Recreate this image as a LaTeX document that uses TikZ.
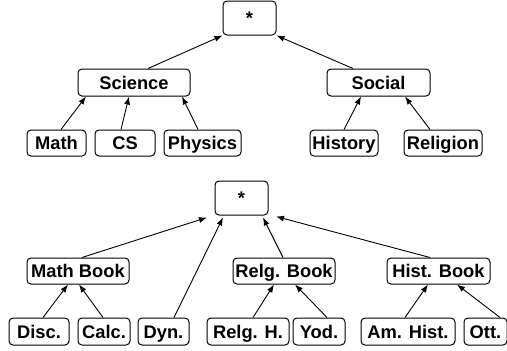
\documentclass[tikz,border=0pt]{standalone}
\usepackage{fontspec}
\setmainfont{Liberation Sans}
\usetikzlibrary{arrows.meta}
\tikzset{
	box/.style={draw, rounded corners=4pt, line width=1pt, fill=white, inner sep=0pt,
		minimum height=26pt, text height=13pt, text depth=0pt,
		font=\fontsize{18.3}{20}\selectfont\bfseries},
	rootbox/.style={box, minimum width=53pt, minimum height=34pt}
}
\begin{document}
\begin{tikzpicture}[>={Latex[length=8pt,width=6pt]}, x=1pt, y=-1pt, line width=0.9pt]
	\useasboundingbox (0,0) rectangle (507,351);
	% upper tree
	\node[rootbox] (top) at (249.5,18) {*};
	\node[box, minimum width=112pt, minimum height=27pt] (sci) at (134,82.5) {Science};
	\node[box, minimum width=103pt, minimum height=27pt] (soc) at (378.5,82.5) {Social};
	\node[box, minimum width=59pt] (math) at (56.5,143) {Math};
	\node[box, minimum width=60pt] (cs) at (125,143) {CS};
	\node[box, minimum width=77pt] (phys) at (202.5,143) {Physics};
	\node[box, minimum width=68pt] (hist) at (344,143) {History};
	\node[box, minimum width=78pt] (relig) at (443,143) {Religion};
	\draw[->] ([xshift=14pt]sci.north) -- (top.south west);
	\draw[->] ([xshift=-25.5pt]soc.north) -- (top.south east);
	\draw[->] ([xshift=4.5pt]math.north) -- ([xshift=-48pt]sci.south);
	\draw[->] ([xshift=-4pt]cs.north) -- ([xshift=-5pt]sci.south);
	\draw[->] ([xshift=-4.5pt]phys.north) -- ([xshift=48pt]sci.south);
	\draw[->] (hist.north) -- ([xshift=-17.5pt]soc.south);
	\draw[->] ([xshift=-13pt]relig.north) -- ([xshift=26.5pt]soc.south);
	% lower tree
	\node[rootbox] (bot) at (241.5,198) {*};
	\node[box, minimum width=102pt] (mbook) at (78,271) {Math Book};
	\node[box, minimum width=102pt] (rbook) at (284,271) {Relg. Book};
	\node[box, minimum width=103pt] (hbook) at (438.5,271) {Hist. Book};
	\node[box, minimum width=60pt, minimum height=27pt] (disc) at (39,331.5) {Disc.};
	\node[box, minimum width=52pt, minimum height=27pt] (calc) at (104,331.5) {Calc.};
	\node[box, minimum width=51pt, minimum height=27pt] (dyn) at (163.5,331.5) {Dyn.};
	\node[box, minimum width=82pt, minimum height=27pt] (relgh) at (248,331.5) {Relg. H.};
	\node[box, minimum width=52pt, minimum height=27pt] (yod) at (319,331.5) {Yod.};
	\node[box, minimum width=94pt, minimum height=27pt] (amhist) at (408,331.5) {Am. Hist.};
	\node[box, minimum width=43pt, minimum height=27pt] (ott) at (485.5,331.5) {Ott.};
	\draw[->] ([xshift=4pt]mbook.north) -- ([xshift=-34.5pt,yshift=-2pt]bot.south);
	\draw[->] ([xshift=10.5pt]dyn.north) -- ([xshift=-18.5pt,yshift=-2pt]bot.south);
	\draw[->] ([xshift=-1pt]rbook.north) -- ([xshift=21.5pt,yshift=-2pt]bot.south);
	\draw[->] ([xshift=-8.5pt]hbook.north) -- ([xshift=34.5pt,yshift=-1pt]bot.south);
	\draw[->] ([xshift=4pt]disc.north) -- ([xshift=-10pt]mbook.south);
	\draw[->] ([xshift=-1pt]calc.north) -- ([xshift=1pt]mbook.south);
	\draw[->] ([xshift=5pt]relgh.north) -- ([xshift=-10pt]rbook.south);
	\draw[->] ([xshift=8pt]yod.north) -- ([xshift=11pt]rbook.south);
	\draw[->] ([xshift=-3pt]amhist.north) -- ([xshift=-10.5pt]hbook.south);
	\draw[->] ([xshift=14.5pt]ott.north) -- ([xshift=18.5pt]hbook.south);
\end{tikzpicture}
\end{document}
